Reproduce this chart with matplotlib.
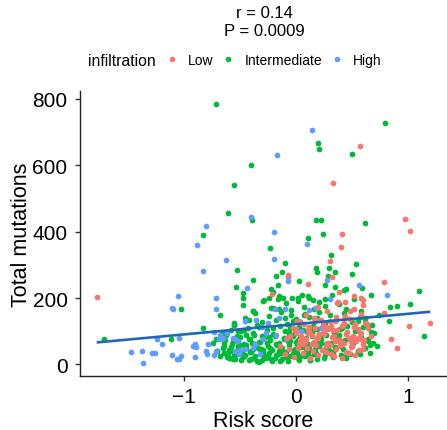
import numpy as np
import matplotlib
matplotlib.use("Agg")
import matplotlib.pyplot as plt
from matplotlib.lines import Line2D

plt.rcParams['font.family'] = ['Liberation Sans', 'DejaVu Sans']

# ---------------- data ----------------
groups = ["Low", "Intermediate", "High"]
group_colors = ["#F8766D", "#00BA38", "#619CFF"]
title_lines = ["r = 0.14", "P = 0.0009"]
x_label = "Risk score"
y_label = "Total mutations"
legend_title = "infiltration"
x_ticks = [-1, 0, 1]
y_ticks = [0, 200, 400, 600, 800]

high_x = [-1.47, -1.373, -1.358, -1.278, -1.254, -1.234, -1.195, -1.107, -1.107, -1.092,
          -1.059, -1.047, -1.044, -1.044, -1.024, -0.914, -0.902, -0.896, -0.888, -0.88,
          -0.828, -0.805, -0.799, -0.79, -0.784, -0.728, -0.728, -0.716, -0.713, -0.71,
          -0.686, -0.68, -0.645, -0.624, -0.612, -0.544, -0.541, -0.512, -0.503, -0.45,
          -0.432, -0.402, -0.355, -0.302, -0.192, -0.192, -0.189, -0.166, -0.098, -0.071,
          -0.068, 0.10, 0.14, 0.275, 0.302, 0.559, 0.808,
          -0.56, -0.50, -0.45, -0.38, -0.36, -0.29, -0.27, -0.18, -0.09, 0.03,
          0.12, 0.15, 0.18, -0.25, -0.15, 0.05, -0.32, 0.22]
high_y = [38, 41, 4, 34, 33, 75, 62, 29, 169, 166,
          17, 207, 81, 15, 25, 54, 22, 61, 52, 360,
          282, 418, 40, 31, 62, 28, 97, 39, 199, 166,
          77, 89, 81, 314, 94, 40, 75, 70, 30, 131,
          229, 445, 135, 113, 399, 318, 166, 632, 166, 251,
          262, 363, 705, 253, 197, 238, 208,
          78, 42, 45, 50, 60, 75, 95, 90, 75, 130,
          165, 65, 170, 125, 140, 100, 30, 110]

int_x = [-1.71, -0.71, 0.79, 0.195, 0.207, 0.497, -0.396, -0.553, -0.609, -0.388,
         0.175, 0.225, 0.615, -0.828, 0.246, 0.11, -0.228, 0.317, -0.10, 0.538,
         -0.527, 0.183, 0.192, 0.296, 0.346, -0.127, -0.175, 0.503, 0.29, -0.382,
         0.027, 0.26, -0.222, -0.533, -0.16, 0.59, 0.349, 0.444, 0.43, -0.473,
         -0.473, -0.207, -0.243, -0.296, -0.163, -0.118, -0.038, 0.015, 0.059, 0.104,
         0.154, 0.26, 0.669, 1.098, 1.015, 0.905, 0.837, 0.831, 1.142, -1.027,
         -0.675, -0.825, -1.112, -0.701, -0.71, -0.639, -0.553, -0.524, -0.609, -0.589,
         -0.515, -0.464, -0.385, -0.414, -0.148,
         0.64, 0.70, 0.72, 0.66, 0.68, 0.62, 0.74, 0.58,
         -0.60, -0.55, -0.47, -0.42, -0.36, -0.33, -0.30, -0.27, -0.22, -0.18,
         -0.12, -0.05, 0.02, 0.08, 0.13, 0.19, 0.26, 0.33, 0.40, 0.48,
         -0.70, -0.64, -0.58, -0.52, -0.48, -0.44, -0.40, -0.34, -0.29, -0.25,
         -0.21, -0.16, -0.13, -0.09, -0.06, -0.02, 0.01, 0.05, 0.09, 0.12,
         0.16, 0.21, 0.24, 0.29, 0.35, 0.42, 0.50, 0.55, 0.62, 0.66,
         -0.74, -0.67, -0.62, -0.56, -0.50, -0.46, -0.41, -0.37, -0.32, -0.28,
         -0.23, -0.19, -0.15, -0.11, -0.07, -0.03, 0.00, 0.04, 0.07, 0.11,
         0.14, 0.18, 0.22, 0.27, 0.31, 0.37, 0.44, 0.52, 0.58, 0.64, 0.69,
         -0.66, -0.55, -0.49, -0.43, -0.38, -0.33, -0.26, -0.20, -0.14, -0.10,
         -0.05, -0.01, 0.03, 0.06, 0.10, 0.15, 0.19, 0.23, 0.28, 0.34,
         0.39, 0.46, 0.53, 0.60, 0.67,
         -0.55, -0.45, -0.36, -0.30, -0.24, -0.18, -0.13, -0.08, -0.04, 0.00,
         0.04, 0.08, 0.12, 0.17, 0.21, 0.25, 0.30, 0.36, 0.43, 0.50, 0.57, 0.62,
         -0.47, -0.38, -0.28, -0.20, -0.15, -0.09, -0.04, 0.02, 0.07, 0.12,
         0.16, 0.21, 0.26, 0.32, 0.38, 0.45, 0.52,
         -0.45, -0.39, -0.31, -0.24, -0.17, -0.12, -0.06, 0.02, 0.09, 0.15,
         0.22, 0.30, 0.38, -0.52, -0.35, -0.20, -0.03, 0.12, 0.26, 0.41,
         -0.40, -0.28, -0.14, 0.00, 0.13, 0.27, 0.45, -0.58, -0.10, 0.07,
         0.34, 0.55, -0.22, 0.19, -0.44,
         -0.65, -0.61, -0.57, -0.53, -0.49, -0.45, -0.41, -0.37, -0.33, -0.29,
         -0.25, -0.21, -0.17, -0.13, -0.09, -0.05, -0.01, 0.03, 0.07, 0.11,
         -0.68, -0.64, -0.60, -0.56, -0.52, -0.48, -0.44, -0.40, -0.36, -0.32,
         -0.63, -0.59, -0.54, -0.50, -0.46, -0.42, -0.38, -0.35, -0.31, -0.26,
         -0.23, -0.19, -0.15, -0.11, -0.07, -0.03, 0.01, 0.05, 0.09, 0.13,
         0.17, 0.21, 0.25, 0.29, 0.33, 0.37, 0.44, 0.49, 0.57, 0.62,
         -0.48, -0.36, -0.24, -0.12, -0.02, 0.08, 0.18, 0.28, 0.40, -0.30,
         -0.18, -0.06, 0.04, 0.14]
int_y = [75, 785, 728, 668, 648, 633, 600, 541, 456, 436,
         434, 434, 426, 389, 393, 380, 350, 330, 307, 302,
         285, 290, 279, 289, 279, 277, 267, 272, 265, 253,
         250, 240, 227, 234, 240, 230, 232, 226, 223, 216,
         199, 219, 199, 190, 196, 199, 199, 199, 208, 206,
         195, 197, 210, 221, 181, 177, 174, 131, 87, 167,
         150, 110, 75, 41, 77, 65, 118, 85, 35, 19,
         55, 105, 161, 135, 166,
         70, 95, 55, 35, 120, 140, 150, 160,
         19, 28, 22, 14, 25, 8, 12, 20, 17, 27,
         15, 24, 18, 26, 21, 16, 29, 23, 27, 30,
         41, 35, 52, 45, 33, 58, 40, 48, 36, 55,
         43, 31, 50, 38, 57, 44, 34, 53, 39, 47,
         32, 56, 42, 37, 51, 46, 54, 39, 48, 58,
         65, 78, 88, 70, 84, 62, 76, 89, 67, 81,
         73, 86, 64, 79, 71, 87, 66, 83, 74, 61,
         85, 69, 77, 90, 63, 80, 72, 68, 84, 75, 65,
         95, 118, 102, 110, 96, 114, 105, 92, 117, 100,
         109, 94, 113, 103, 98, 116, 107, 93, 111, 99,
         106, 115, 101, 112, 97,
         125, 140, 155, 128, 146, 133, 158, 122, 150, 137,
         127, 152, 142, 130, 157, 124, 148, 135, 154, 129, 143, 138,
         178, 162, 195, 170, 205, 184, 165, 192, 174, 200,
         168, 188, 176, 208, 182, 167, 196,
         28, 64, 45, 82, 58, 36, 97, 73, 49, 104,
         63, 41, 88, 100, 120, 110, 130, 55, 125, 110,
         15, 25, 10, 40, 12, 60, 18, 105, 140, 150,
         95, 130, 170, 140, 90,
         48, 22, 62, 30, 12, 52, 38, 18, 66, 44,
         27, 9, 58, 35, 21, 70, 47, 13, 60, 33,
         24, 55, 42, 16, 68, 29, 50, 37, 61, 45,
         72, 40, 15, 58, 26, 75, 46, 11, 32, 64,
         50, 20, 39, 77, 11, 31, 62, 25, 80, 14,
         45, 67, 20, 52, 36, 72, 22, 70, 30, 50,
         40, 55, 35, 48, 38, 52, 33, 44, 56, 85,
         62, 90, 75, 95]

low_x = [-1.775, -0.071, -0.216, 0.109, 0.302, 0.325, 0.388, 0.373, 0.438, 0.518,
         0.577, 0.598, 0.405, 0.414, 0.331, 0.568, 0.973, 1.018, 0.781, 0.787,
         1.012, 1.198, 0.852, 0.899,
         -0.10, -0.02, 0.06, 0.13, 0.20, 0.27, 0.34, 0.41, 0.47, 0.53,
         -0.14, -0.06, 0.03, 0.10, 0.16, 0.23, 0.30, 0.36, 0.43, 0.49, 0.56, 0.60,
         -0.08, 0.00, 0.08, 0.14, 0.19, 0.25, 0.32, 0.38, 0.45, 0.51, 0.58,
         -0.03, 0.05, 0.11, 0.18, 0.24, 0.29, 0.35, 0.41, 0.48, 0.55, 0.63,
         0.09, 0.20, 0.28, 0.37, 0.44, 0.52, 0.60,
         0.02, 0.08, 0.15, 0.21, 0.27, 0.33, 0.39, 0.45, 0.50, 0.57,
         0.12, 0.24, 0.36, 0.48, 0.60, 0.05, 0.18, 0.31, 0.42, 0.54,
         -0.05, 0.00, 0.04, 0.07, 0.11, 0.14, 0.17, 0.20, 0.22, 0.25,
         0.28, 0.31, 0.34, 0.37, 0.40, 0.43, 0.46, 0.49, 0.52, 0.55,
         0.58, 0.61, 0.64, 0.67,
         0.01, 0.09, 0.16, 0.26, 0.35, 0.44, 0.53, 0.62, 0.12, 0.30,
         0.47, 0.58, 0.21, 0.39, 0.06, 0.50]
low_y = [203, 270, 212, 241, 311, 264, 217, 189, 189, 206,
         201, 195, 355, 393, 547, 659, 439, 401, 247, 156,
         117, 125, 75, 50,
         30, 22, 35, 18, 28, 38, 25, 20, 33, 27,
         55, 45, 62, 50, 68, 42, 58, 47, 65, 52, 44, 60,
         80, 95, 74, 88, 78, 98, 84, 72, 92, 86, 76,
         110, 125, 104, 135, 118, 108, 130, 115, 138, 106, 122,
         150, 172, 160, 185, 145, 168, 178,
         48, 66, 40, 92, 55, 105, 62, 38, 78, 96,
         112, 128, 142, 160, 45, 85, 58, 30, 120, 70,
         85, 107, 73, 123, 95, 60, 111, 80, 133, 93,
         65, 117, 87, 103, 59, 125, 99, 69, 113, 81,
         95, 73, 109, 87,
         130, 75, 140, 114, 70, 142, 122, 125, 98, 130,
         80, 152, 92, 74, 62, 54]

# ---------------- figure ----------------
W, H = 447, 431
fig = plt.figure(figsize=(W / 100, H / 100), dpi=100)
ax = fig.add_axes([80 / W, 54 / H, (W - 80) / W, (377 - 92) / H])

series = {"Low": (low_x, low_y), "Intermediate": (int_x, int_y), "High": (high_x, high_y)}
cmap = dict(zip(groups, group_colors))
for g in ["Intermediate", "High", "Low"]:
    xs, ys = series[g]
    ax.scatter(xs, ys, s=17, color=cmap[g], linewidths=0, zorder=2)

all_x = np.array(low_x + int_x + high_x, dtype=float)
all_y = np.array(low_y + int_y + high_y, dtype=float)
slope, intercept = np.polyfit(all_x, all_y, 1)
xl = np.array([all_x.min(), all_x.max()])
ax.plot(xl, slope * xl + intercept, color="#2166B8", lw=1.9, zorder=3, solid_capstyle="butt")

xr = all_x.max() - all_x.min()
yr = all_y.max() - all_y.min()
ax.set_xlim(all_x.min() - 0.05 * xr, all_x.max() + 0.05 * xr)
ax.set_ylim(all_y.min() - 0.05 * yr, all_y.max() + 0.05 * yr)

ax.set_xticks(x_ticks)
ax.set_yticks(y_ticks)
for s in ["top", "right"]:
    ax.spines[s].set_visible(False)
for s in ["left", "bottom"]:
    ax.spines[s].set_color("#222222")
    ax.spines[s].set_linewidth(1.0)
ax.tick_params(axis="both", length=3.5, width=1.0, color="#333333",
               labelsize=15, labelcolor="black")
ax.tick_params(axis="x", pad=4.5)
ax.tick_params(axis="y", pad=5.5)
ax.set_xlabel(x_label, fontsize=15.5, labelpad=2.5)
ax.set_ylabel(y_label, fontsize=15.5, labelpad=0.5)

cx = (80 + 448) / 2 / W
fig.text(cx, 1 - 13 / H, title_lines[0], ha="center", va="center", fontsize=12)
fig.text(cx, 1 - 31 / H, title_lines[1], ha="center", va="center", fontsize=12)

fig.text(88 / W, 1 - 61 / H, legend_title, ha="left", va="center", fontsize=11.3)
handles = [Line2D([0], [0], marker="o", linestyle="none", markersize=4,
                  markerfacecolor=c, markeredgewidth=0) for c in group_colors]
fig.legend(handles, groups, loc="center left", bbox_to_anchor=(166.4 / W, 1 - 61 / H),
           ncol=3, frameon=False, fontsize=10, handlelength=0.8, handletextpad=0.75,
           columnspacing=0.68, borderaxespad=0, borderpad=0)

fig.savefig("out.png", dpi=100)
